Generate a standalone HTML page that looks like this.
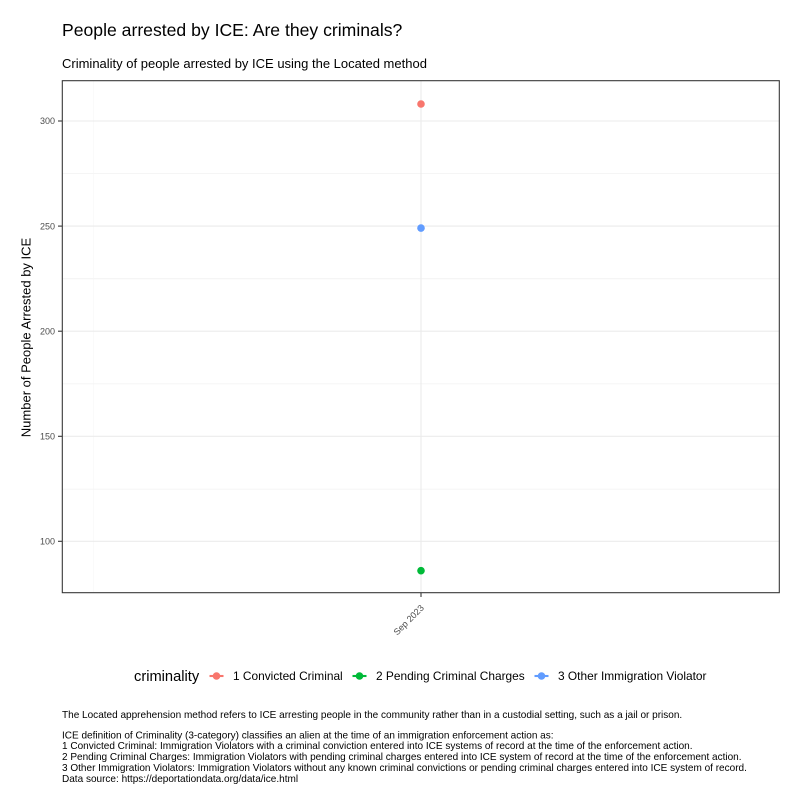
<!DOCTYPE html>
<html>
<head>
<meta charset="utf-8">
<style>
  html, body { margin: 0; padding: 0; background: #ffffff; }
  svg { display: block; }
  text { font-family: "Liberation Sans", Arial, sans-serif; }
</style>
</head>
<body>
<svg width="800" height="800" viewBox="0 0 800 800" xmlns="http://www.w3.org/2000/svg">
  <rect x="0" y="0" width="800" height="800" fill="#ffffff"/>

  <!-- Title & subtitle -->
  <text x="62" y="36" font-size="17.6" fill="#000000">People arrested by ICE: Are they criminals?</text>
  <text x="62" y="68" font-size="13" fill="#000000">Criminality of people arrested by ICE using the Located method</text>

  <!-- Panel background -->
  <rect x="62.3" y="80.7" width="717" height="512" fill="#ffffff"/>

  <!-- Minor gridlines -->
  <g stroke="#EBEBEB" stroke-width="0.55">
    <line x1="62.3" x2="779.3" y1="173.6" y2="173.6"/>
    <line x1="62.3" x2="779.3" y1="278.8" y2="278.8"/>
    <line x1="62.3" x2="779.3" y1="383.9" y2="383.9"/>
    <line x1="62.3" x2="779.3" y1="489.1" y2="489.1"/>
    <line x1="93.3" x2="93.3" y1="80.7" y2="592.7" stroke="#F5F5F5"/>
  </g>
  <!-- Major gridlines -->
  <g stroke="#EBEBEB" stroke-width="1.1">
    <line x1="62.3" x2="779.3" y1="121" y2="121"/>
    <line x1="62.3" x2="779.3" y1="226.1" y2="226.1"/>
    <line x1="62.3" x2="779.3" y1="331.2" y2="331.2"/>
    <line x1="62.3" x2="779.3" y1="436.3" y2="436.3"/>
    <line x1="62.3" x2="779.3" y1="541.3" y2="541.3"/>
    <line x1="421" x2="421" y1="80.7" y2="592.7"/>
  </g>

  <!-- Points -->
  <circle cx="421" cy="104" r="3.8" fill="#F8766D"/>
  <circle cx="421" cy="228.1" r="3.8" fill="#619CFF"/>
  <circle cx="421" cy="570.7" r="3.8" fill="#00BA38"/>

  <!-- Panel border -->
  <rect x="62.3" y="80.7" width="717" height="512" fill="none" stroke="#333333" stroke-width="1.07"/>

  <!-- Ticks -->
  <g stroke="#333333" stroke-width="1.07">
    <line x1="58" x2="62.3" y1="121" y2="121"/>
    <line x1="58" x2="62.3" y1="226.1" y2="226.1"/>
    <line x1="58" x2="62.3" y1="331.2" y2="331.2"/>
    <line x1="58" x2="62.3" y1="436.3" y2="436.3"/>
    <line x1="58" x2="62.3" y1="541.3" y2="541.3"/>
    <line x1="421" x2="421" y1="592.7" y2="597"/>
  </g>
  <g font-size="9" fill="#4D4D4D" text-anchor="end">
    <text x="55" y="124.2">300</text>
    <text x="55" y="229.3">250</text>
    <text x="55" y="334.4">200</text>
    <text x="55" y="439.5">150</text>
    <text x="55" y="544.5">100</text>
  </g>

  <!-- X tick label -->
  <text x="0" y="0" font-size="9" fill="#4D4D4D" text-anchor="end" transform="translate(424.5,608.5) rotate(-45)">Sep 2023</text>

  <!-- Y axis title -->
  <text x="0" y="0" font-size="13" fill="#000000" text-anchor="middle" transform="translate(30.5,337.5) rotate(-90)">Number of People Arrested by ICE</text>

  <!-- Legend -->
  <text x="134" y="681" font-size="14.67" fill="#000000">criminality</text>
  <g stroke-width="2.1">
    <line x1="209.5" x2="223.5" y1="676" y2="676" stroke="#F8766D"/>
    <line x1="352.5" x2="366.5" y1="676" y2="676" stroke="#00BA38"/>
    <line x1="534.5" x2="548.5" y1="676" y2="676" stroke="#619CFF"/>
  </g>
  <circle cx="216.5" cy="676" r="3.8" fill="#F8766D"/>
  <circle cx="359.5" cy="676" r="3.8" fill="#00BA38"/>
  <circle cx="541.5" cy="676" r="3.8" fill="#619CFF"/>
  <g font-size="11.9" fill="#000000">
    <text x="233" y="680">1 Convicted Criminal</text>
    <text x="376" y="680">2 Pending Criminal Charges</text>
    <text x="558" y="680">3 Other Immigration Violator</text>
  </g>

  <!-- Caption -->
  <g font-size="10.03" fill="#000000">
    <text x="62" y="718">The Located apprehension method refers to ICE arresting people in the community rather than in a custodial setting, such as a jail or prison.</text>
    <text x="62" y="738.3">ICE definition of Criminality (3-category) classifies an alien at the time of an immigration enforcement action as:</text>
    <text x="62" y="749.2">1 Convicted Criminal: Immigration Violators with a criminal conviction entered into ICE systems of record at the time of the enforcement action.</text>
    <text x="62" y="760.2">2 Pending Criminal Charges: Immigration Violators with pending criminal charges entered into ICE system of record at the time of the enforcement action.</text>
    <text x="62" y="771.2">3 Other Immigration Violators: Immigration Violators without any known criminal convictions or pending criminal charges entered into ICE system of record.</text>
    <text x="62" y="782">Data source: https://deportationdata.org/data/ice.html</text>
  </g>
</svg>
</body>
</html>
